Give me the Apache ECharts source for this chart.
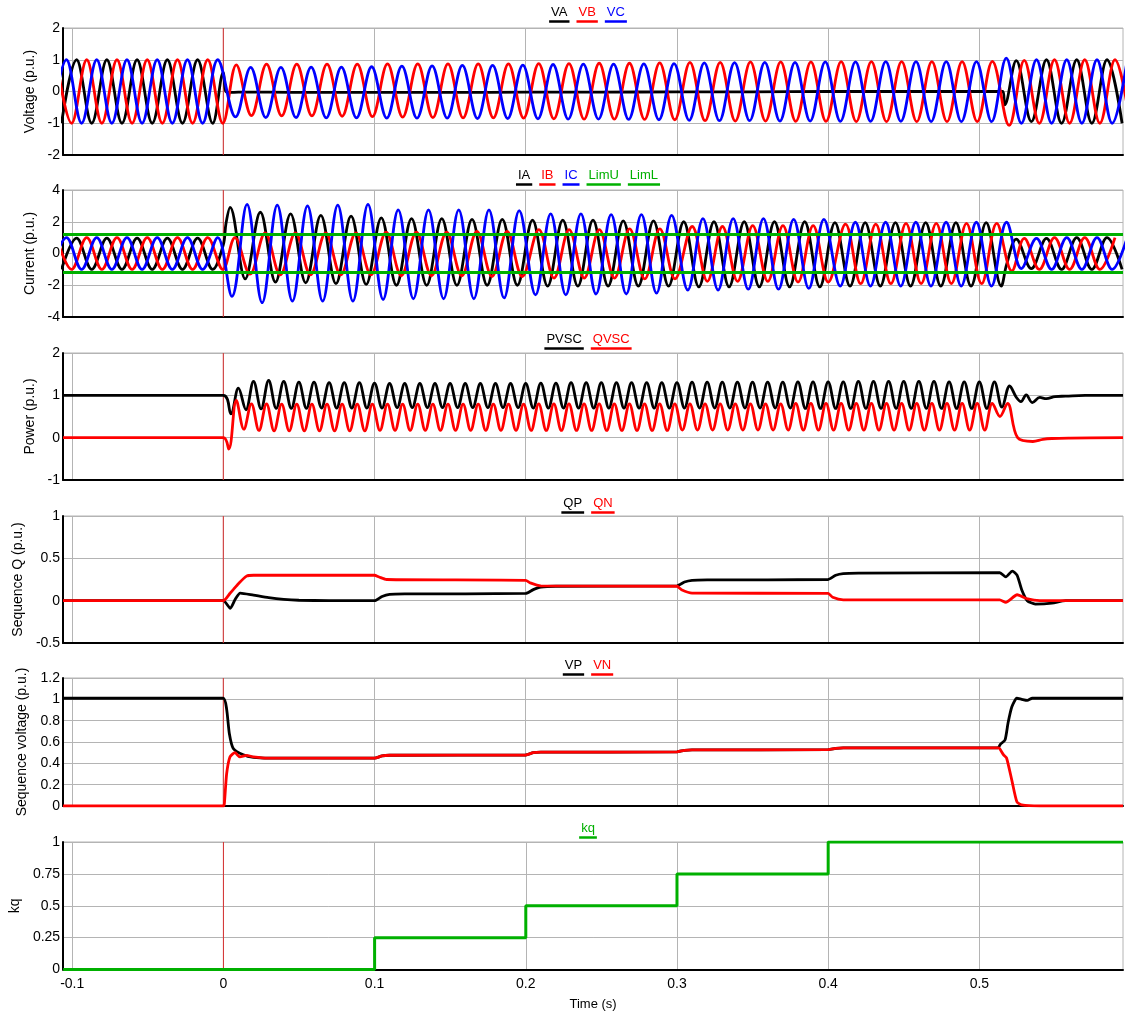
<!DOCTYPE html>
<html><head><meta charset="utf-8">
<script src="https://cdn.jsdelivr.net/npm/echarts@6/dist/echarts.min.js"></script>
<style>html,body{margin:0;padding:0;background:#fff}#c{width:1126px;height:1030px}</style>
</head><body><div id="c"></div>
<script>
// ---------------- DATA ----------------
// Sinusoids are stored as successive extrema (half-cycle peaks/troughs), 50 Hz -> 0.01 s apart,
// 100 Hz power ripple -> 0.005 s apart. Each segment: start time of first extremum + values.
const xTicks = [-0.1, 0, 0.1, 0.2, 0.3, 0.4, 0.5];
const faultTime = 0;

// Voltage panel
const VA_pre_t0 = -0.107;
const VA_pre = [-1,1,-1,1,-1,1,-1,1,-1,1,-1];
const VA_fault = [[0,0.6],[0.0015,0.02],[0.004,-0.03],[0.01,-0.02],[0.03,-0.02],[0.06,-0.03],[0.1,-0.03],[0.15,-0.03],[0.2,-0.02],[0.25,-0.02],[0.3,-0.01],[0.35,-0.01],[0.4,0],[0.45,0],[0.5,0],[0.5155,0],[0.5168,-0.42]];
const VA_post_t0 = 0.5244;
const VA_post = [0.97,-0.95,1,-1,1,-1,1,-1];

const VB_pre_t0 = -0.1103;
const VB_pre = [1,-1,1,-1,1,-1,1,-1,1,-1,1,-1];
const VB_fault_t0 = 0.0086;
const VB_fault = [0.84,-0.76,0.86,-0.77,0.86,-0.77,0.86,-0.78,0.86,-0.79,
  0.87,-0.81,0.87,-0.82,0.87,-0.83,0.87,-0.83,0.87,-0.84,
  0.88,-0.86,0.88,-0.87,0.89,-0.87,0.89,-0.88,0.9,-0.89,
  0.92,-0.92,0.92,-0.93,0.93,-0.93,0.93,-0.94,0.93,-0.94,
  0.94,-0.95,0.94,-0.95,0.94,-0.95,0.94,-0.95,0.94,-0.95,
  0.95];
const VB_post_t0 = 0.5197;
const VB_post = [-1.07,0.98,-1,1,-1,1,-1,1,-1];

const VC_pre_t0 = -0.1137;
const VC_pre = [-1,1,-1,1,-1,1,-1,1,-1,1,-1,1];
const VC_fault_t0 = 0.0081;
const VC_fault = [-0.8,0.76,-0.82,0.76,-0.82,0.77,-0.83,0.77,-0.83,0.78,
  -0.84,0.8,-0.84,0.81,-0.84,0.82,-0.85,0.82,-0.85,0.83,
  -0.86,0.85,-0.87,0.86,-0.87,0.86,-0.88,0.87,-0.89,0.88,
  -0.91,0.9,-0.92,0.91,-0.92,0.92,-0.93,0.92,-0.93,0.93,
  -0.94,0.93,-0.94,0.94,-0.94,0.94,-0.95,0.94,-0.95,0.94,
  -0.95];
const VC_post_t0 = 0.5178;
const VC_post = [1.05,-1,1,-1,1,-1,1,-1,1];

// Current panel
const IA_pre_t0 = -0.107;
const IA_pre = [-1,0.97,-1,0.97,-1,0.97,-1,0.97,-1,0.97,-1];
const IA_jump = [[0,0.55],[0.0018,1.9]];
const IA_fault_t0 = 0.0045;
const IA_fault = [2.9,-1.6,2.6,-1.8,2.5,-1.85,2.4,-1.9,2.35,-1.95,
  2.25,-2.0,2.2,-2.0,2.2,-2.0,2.15,-2.0,2.15,-2.0,
  2.1,-2.05,2.1,-2.05,2.1,-2.05,2.05,-2.05,2.05,-2.05,
  2.0,-2.1,2.0,-2.1,2.0,-2.1,2.0,-2.1,2.0,-2.1,
  1.95,-2.05,1.95,-2.05,1.95,-2.05,1.95,-2.05,1.95,-2.05,
  1.95,-2.05];
const IA_clear = [[0.518,-0.7]];
const IA_post_t0 = 0.5244;
const IA_post = [0.9,-0.95,0.95,-1,1,-1,1,-1];

const IB_pre_t0 = -0.1103;
const IB_pre = [1,-1,1,-1,1,-1,1,-1,1,-1,1,-1];
// fault: one segment per kq step (phase drifts as kq rises)
const IB_fault_t0 = [0.0077, 0.2087, 0.3101, 0.4115];
const IB_fault = [
  [1.0,-1.3,1.3,-1.35,1.3,-1.35,1.3,-1.35,1.3,-1.35,1.35,-1.4,1.35,-1.4,1.35,-1.4,1.4,-1.45,1.4,-1.45],
  [1.5,-1.55,1.5,-1.55,1.5,-1.55,1.55,-1.6,1.55,-1.6],
  [1.7,-1.75,1.7,-1.75,1.75,-1.75,1.75,-1.8,1.75,-1.8],
  [1.85,-1.9,1.85,-1.9,1.9,-1.9,1.9,-1.9,1.9,-1.9,1.9,-1.1]];
const IB_post_t0 = 0.5297;
const IB_post = [0.95,-1,1,-1,1,-1,1];

const IC_pre_t0 = -0.1137;
const IC_pre = [-1,1,-1,1,-1,1,-1,1,-1,1,-1,1];
const IC_fault_t0 = [0.0057, 0.2065, 0.3072, 0.408];
const IC_fault = [
  [-2.7,3.1,-3.1,3.05,-3.0,3.0,-3.0,3.05,-3.0,3.1,-2.9,2.75,-2.85,2.75,-2.85,2.75,-2.85,2.75,-2.8,2.7],
  [-2.6,2.5,-2.6,2.5,-2.55,2.45,-2.55,2.45,-2.5,2.4],
  [-2.3,2.2,-2.3,2.2,-2.25,2.2,-2.25,2.15,-2.2,2.15],
  [-2.05,1.97,-2.05,1.97,-2.05,1.97,-2.05,1.97,-2.05,1.97,-2.05,1.97]];
const IC_post_t0 = 0.5278;
const IC_post = [-0.95,0.95,-1,1,-1,1,-1,1];

const LimU = [[-0.106,1.2],[0.595,1.2]];
const LimL = [[-0.106,-1.2],[0.595,-1.2]];

// Power panel
const P_pre = [[-0.106,1],[0,1]];
const P_fault_t0 = 0.005;
const P_fault = [0.56,1.17,0.66,1.33,0.68,1.35,0.69,1.33,0.69,1.31,
  0.69,1.31,0.7,1.3,0.7,1.3,0.7,1.3,0.7,1.29,
  0.7,1.28,0.71,1.28,0.71,1.28,0.71,1.28,0.71,1.28,
  0.71,1.28,0.71,1.28,0.71,1.28,0.71,1.28,0.71,1.28,
  0.7,1.29,0.7,1.29,0.7,1.3,0.7,1.3,0.7,1.3,
  0.7,1.3,0.7,1.3,0.7,1.3,0.7,1.3,0.7,1.3,
  0.7,1.31,0.7,1.31,0.7,1.31,0.7,1.31,0.7,1.31,
  0.7,1.31,0.7,1.31,0.7,1.32,0.69,1.32,0.69,1.32,
  0.69,1.32,0.69,1.33,0.69,1.33,0.69,1.33,0.69,1.33,
  0.69,1.33,0.69,1.33,0.69,1.32,0.69,1.32,0.69,1.32,
  0.69,1.32,0.72,1.22];
const P_post = [[0.5245,0.95],[0.5275,0.85],[0.531,1.01],[0.535,0.83],[0.540,0.95],[0.5443,0.92],[0.55,0.97],[0.557,0.98],[0.57,1.0],[0.595,1.0]];

const Q_pre = [[-0.106,0],[0,0]];
const Q_fault_t0 = 0.0036;
const Q_fault = [-0.27,0.88,0.2,0.8,0.17,0.8,0.16,0.79,0.16,0.79,
  0.16,0.79,0.16,0.79,0.16,0.79,0.16,0.79,0.16,0.79,
  0.17,0.79,0.17,0.79,0.17,0.79,0.17,0.79,0.17,0.79,
  0.17,0.79,0.17,0.79,0.17,0.79,0.17,0.79,0.17,0.79,
  0.17,0.8,0.17,0.8,0.17,0.8,0.17,0.8,0.17,0.8,
  0.17,0.8,0.17,0.8,0.17,0.8,0.17,0.8,0.17,0.8,
  0.18,0.8,0.18,0.8,0.18,0.8,0.18,0.8,0.18,0.8,
  0.18,0.8,0.18,0.8,0.18,0.81,0.18,0.81,0.18,0.81,
  0.18,0.81,0.18,0.81,0.18,0.81,0.18,0.81,0.18,0.81,
  0.18,0.81,0.18,0.81,0.18,0.81,0.18,0.81,0.18,0.81,
  0.18,0.81,0.5,0.81];
const Q_post = [[0.5253,0.0],[0.5354,-0.09],[0.542,-0.04],[0.548,-0.02],[0.56,-0.01],[0.595,0]];

// Sequence Q panel
const QP = [[-0.106,0],[0,0],[0.0046,-0.09],[0.008,0.02],[0.0112,0.09],[0.02,0.065],[0.03,0.035],[0.04,0.015],[0.05,0.005],[0.07,0],[0.1,0],[0.105,0.05],[0.11,0.075],[0.12,0.08],[0.2,0.085],[0.205,0.13],[0.21,0.16],[0.22,0.17],[0.3,0.175],[0.305,0.22],[0.31,0.24],[0.32,0.245],[0.4,0.25],[0.405,0.3],[0.41,0.32],[0.42,0.325],[0.5135,0.33],[0.5175,0.28],[0.5218,0.35],[0.525,0.3],[0.528,0.13],[0.5317,0.0],[0.537,-0.04],[0.548,-0.03],[0.557,0],[0.595,0]];
const QN = [[-0.106,0],[0,0],[0.0046,0.09],[0.0066,0.13],[0.01,0.2],[0.0154,0.29],[0.02,0.3],[0.1,0.3],[0.103,0.28],[0.108,0.25],[0.2,0.24],[0.203,0.21],[0.21,0.175],[0.3,0.17],[0.303,0.13],[0.31,0.09],[0.4,0.085],[0.403,0.04],[0.41,0.01],[0.5135,0.01],[0.5175,-0.02],[0.525,0.07],[0.532,0.02],[0.54,0.0],[0.595,0]];

// Sequence voltage panel
const VP = [[-0.106,1.01],[0,1.01],[0.0022,0.91],[0.004,0.68],[0.0066,0.54],[0.0132,0.48],[0.02,0.455],[0.03,0.448],[0.1,0.448],[0.105,0.47],[0.11,0.476],[0.2,0.478],[0.205,0.5],[0.21,0.505],[0.3,0.508],[0.305,0.522],[0.31,0.526],[0.4,0.528],[0.405,0.54],[0.41,0.545],[0.5123,0.545],[0.514,0.58],[0.517,0.62],[0.519,0.78],[0.5215,0.93],[0.5248,1.01],[0.528,1.0],[0.5317,0.99],[0.535,1.01],[0.595,1.01]];
const VN = [[-0.106,0],[0,0],[0.0007,0.02],[0.0022,0.3],[0.0044,0.46],[0.0077,0.5],[0.011,0.46],[0.0154,0.475],[0.02,0.46],[0.03,0.448],[0.1,0.448],[0.105,0.47],[0.11,0.476],[0.2,0.478],[0.205,0.5],[0.21,0.505],[0.3,0.508],[0.305,0.522],[0.31,0.526],[0.4,0.528],[0.405,0.54],[0.41,0.545],[0.5123,0.545],[0.5133,0.54],[0.516,0.48],[0.518,0.45],[0.5215,0.24],[0.5248,0.04],[0.528,0.01],[0.54,0],[0.595,0]];

// kq panel
const kqT = [-0.106, 0.1, 0.2, 0.3, 0.4, 0.595];
const kqV = [0, 0.25, 0.5, 0.75, 1, 1];

// ---------------- BUILD ----------------
function wave(t0, step, vals) { return vals.map((v, i) => [+(t0 + i * step).toFixed(5), v]); }
function waves(t0s, step, segs) { return segs.reduce((acc, s, k) => acc.concat(wave(t0s[k], step, s)), []); }
const E50 = 0.01, E100 = 0.005;

const dVA = [...wave(VA_pre_t0,E50,VA_pre), ...VA_fault, ...wave(VA_post_t0,E50,VA_post)];
const dVB = [...wave(VB_pre_t0,E50,VB_pre), ...wave(VB_fault_t0,E50,VB_fault), ...wave(VB_post_t0,E50,VB_post)];
const dVC = [...wave(VC_pre_t0,E50,VC_pre), ...wave(VC_fault_t0,E50,VC_fault), ...wave(VC_post_t0,E50,VC_post)];
const dIA = [...wave(IA_pre_t0,E50,IA_pre), ...IA_jump, ...wave(IA_fault_t0,E50,IA_fault), ...IA_clear, ...wave(IA_post_t0,E50,IA_post)];
const dIB = [...wave(IB_pre_t0,E50,IB_pre), ...waves(IB_fault_t0,E50,IB_fault), ...wave(IB_post_t0,E50,IB_post)];
const dIC = [...wave(IC_pre_t0,E50,IC_pre), ...waves(IC_fault_t0,E50,IC_fault), ...wave(IC_post_t0,E50,IC_post)];
const dP = [...P_pre, ...wave(P_fault_t0,E100,P_fault), ...P_post];
const dQ = [...Q_pre, ...wave(Q_fault_t0,E100,Q_fault), ...Q_post];
const dKq = kqT.map((t, i) => [t, kqV[i]]);

const BLACK = '#000000', RED = '#ff0000', BLUE = '#0000ff', GREEN = '#00b000', FAULT = '#d83030';
const FONT = 'Arial, "Liberation Sans", sans-serif';

const grids = [
  {top: 28, height: 127},
  {top: 190, height: 127},
  {top: 353, height: 127},
  {top: 516, height: 127},
  {top: 678, height: 128},
  {top: 842, height: 127.5}
];
const yCfg = [
  {min: -2, max: 2, interval: 1, name: 'Voltage (p.u.)', gap: 25},
  {min: -4, max: 4, interval: 2, name: 'Current (p.u.)', gap: 26},
  {min: -1, max: 2, interval: 1, name: 'Power (p.u.)', gap: 26},
  {min: -0.5, max: 1, interval: 0.5, name: 'Sequence Q (p.u.)', gap: 38},
  {min: 0, max: 1.2, interval: 0.2, name: 'Sequence voltage (p.u.)', gap: 32},
  {min: 0, max: 1, interval: 0.25, name: 'kq', gap: 40}
];

const option = {
  animation: false,
  backgroundColor: '#fff',
  textStyle: {fontFamily: FONT},
  grid: grids.map(g => ({left: 63, right: 3, top: g.top, height: g.height, show: true, borderColor: '#b4b4b4', borderWidth: 1, backgroundColor: 'transparent'})),
  xAxis: grids.map((g, i) => ({
    type: 'value', gridIndex: i, min: -0.106, max: 0.595,
    axisLine: {show: true, onZero: false, lineStyle: {color: '#000', width: 2}},
    axisTick: {show: false, customValues: xTicks},
    axisLabel: {show: i === 5, customValues: xTicks, color: '#000', fontSize: 14, fontFamily: FONT, margin: 8},
    splitLine: {show: true, lineStyle: {color: '#b4b4b4', width: 1}},
    name: i === 5 ? 'Time (s)' : '', nameLocation: 'middle', nameGap: 28,
    nameTextStyle: {color: '#000', fontSize: 13, fontFamily: FONT}
  })),
  yAxis: yCfg.map((c, i) => ({
    type: 'value', gridIndex: i, min: c.min, max: c.max, interval: c.interval,
    axisLine: {show: true, onZero: false, lineStyle: {color: '#000', width: 2}},
    axisTick: {show: false},
    axisLabel: {color: '#000', fontSize: 14, fontFamily: FONT, margin: 3},
    splitLine: {show: true, lineStyle: {color: '#b4b4b4', width: 1}},
    name: c.name, nameLocation: 'middle', nameGap: c.gap,
    nameTextStyle: {color: '#000', fontSize: 14, fontFamily: FONT}
  })),
  series: []
};

function addLine(name, grid, data, color, smooth, width, extra) {
  option.series.push(Object.assign({
    name, type: 'line', xAxisIndex: grid, yAxisIndex: grid, data,
    showSymbol: false, symbol: 'none', smooth: smooth, clip: true,
    lineStyle: {color, width: width || 2.8}, itemStyle: {color}
  }, extra || {}));
}
// thin red marker of the fault instant in every panel (drawn first, under the curves)
yCfg.forEach((c, i) => addLine('fault' + i, i, [[faultTime, c.min], [faultTime, c.max]], FAULT, false, 1, {silent: true, z: 1}));

const SM = 0.363;
addLine('VA', 0, dVA, BLACK, SM);
addLine('VB', 0, dVB, RED, SM);
addLine('VC', 0, dVC, BLUE, SM);
addLine('IA', 1, dIA, BLACK, SM);
addLine('IB', 1, dIB, RED, SM);
addLine('IC', 1, dIC, BLUE, SM);
addLine('LimU', 1, LimU, GREEN, false, 3);
addLine('LimL', 1, LimL, GREEN, false, 3);
addLine('PVSC', 2, dP, BLACK, SM);
addLine('QVSC', 2, dQ, RED, SM);
addLine('QP', 3, QP, BLACK, 0.2);
addLine('QN', 3, QN, RED, 0.2);
addLine('VP', 4, VP, BLACK, 0.2);
addLine('VN', 4, VN, RED, 0.2);
addLine('kq', 5, dKq, GREEN, false, 3, {step: 'end'});

// Legends: coloured text with coloured underline, centred above each panel
const legends = [
  {y: 14, items: [['VA', BLACK], ['VB', RED], ['VC', BLUE]]},
  {y: 177, items: [['IA', BLACK], ['IB', RED], ['IC', BLUE], ['LimU', GREEN], ['LimL', GREEN]]},
  {y: 341, items: [['PVSC', BLACK], ['QVSC', RED]]},
  {y: 505, items: [['QP', BLACK], ['QN', RED]]},
  {y: 667, items: [['VP', BLACK], ['VN', RED]]},
  {y: 830, items: [['kq', GREEN]]}
];
const cv = document.createElement('canvas').getContext('2d');
cv.font = '13px Arial, "Liberation Sans", sans-serif';
const graphics = [];
legends.forEach(L => {
  const gap = 11;
  const ws = L.items.map(it => cv.measureText(it[0]).width);
  const total = ws.reduce((a, b) => a + b, 0) + gap * (ws.length - 1);
  let x = 588 - total / 2;
  L.items.forEach((it, k) => {
    graphics.push({type: 'text', left: x, top: L.y - 8, silent: true,
      style: {text: it[0], fill: it[1], font: '13px Arial, "Liberation Sans", sans-serif'}});
    graphics.push({type: 'line', silent: true,
      shape: {x1: x - 2, y1: L.y + 7.5, x2: x + ws[k] + 2, y2: L.y + 7.5},
      style: {stroke: it[1], lineWidth: 2.5}});
    x += ws[k] + gap;
  });
});
option.graphic = graphics;

const chart = echarts.init(document.getElementById('c'), null, {renderer: 'canvas'});
chart.setOption(option);
</script></body></html>
